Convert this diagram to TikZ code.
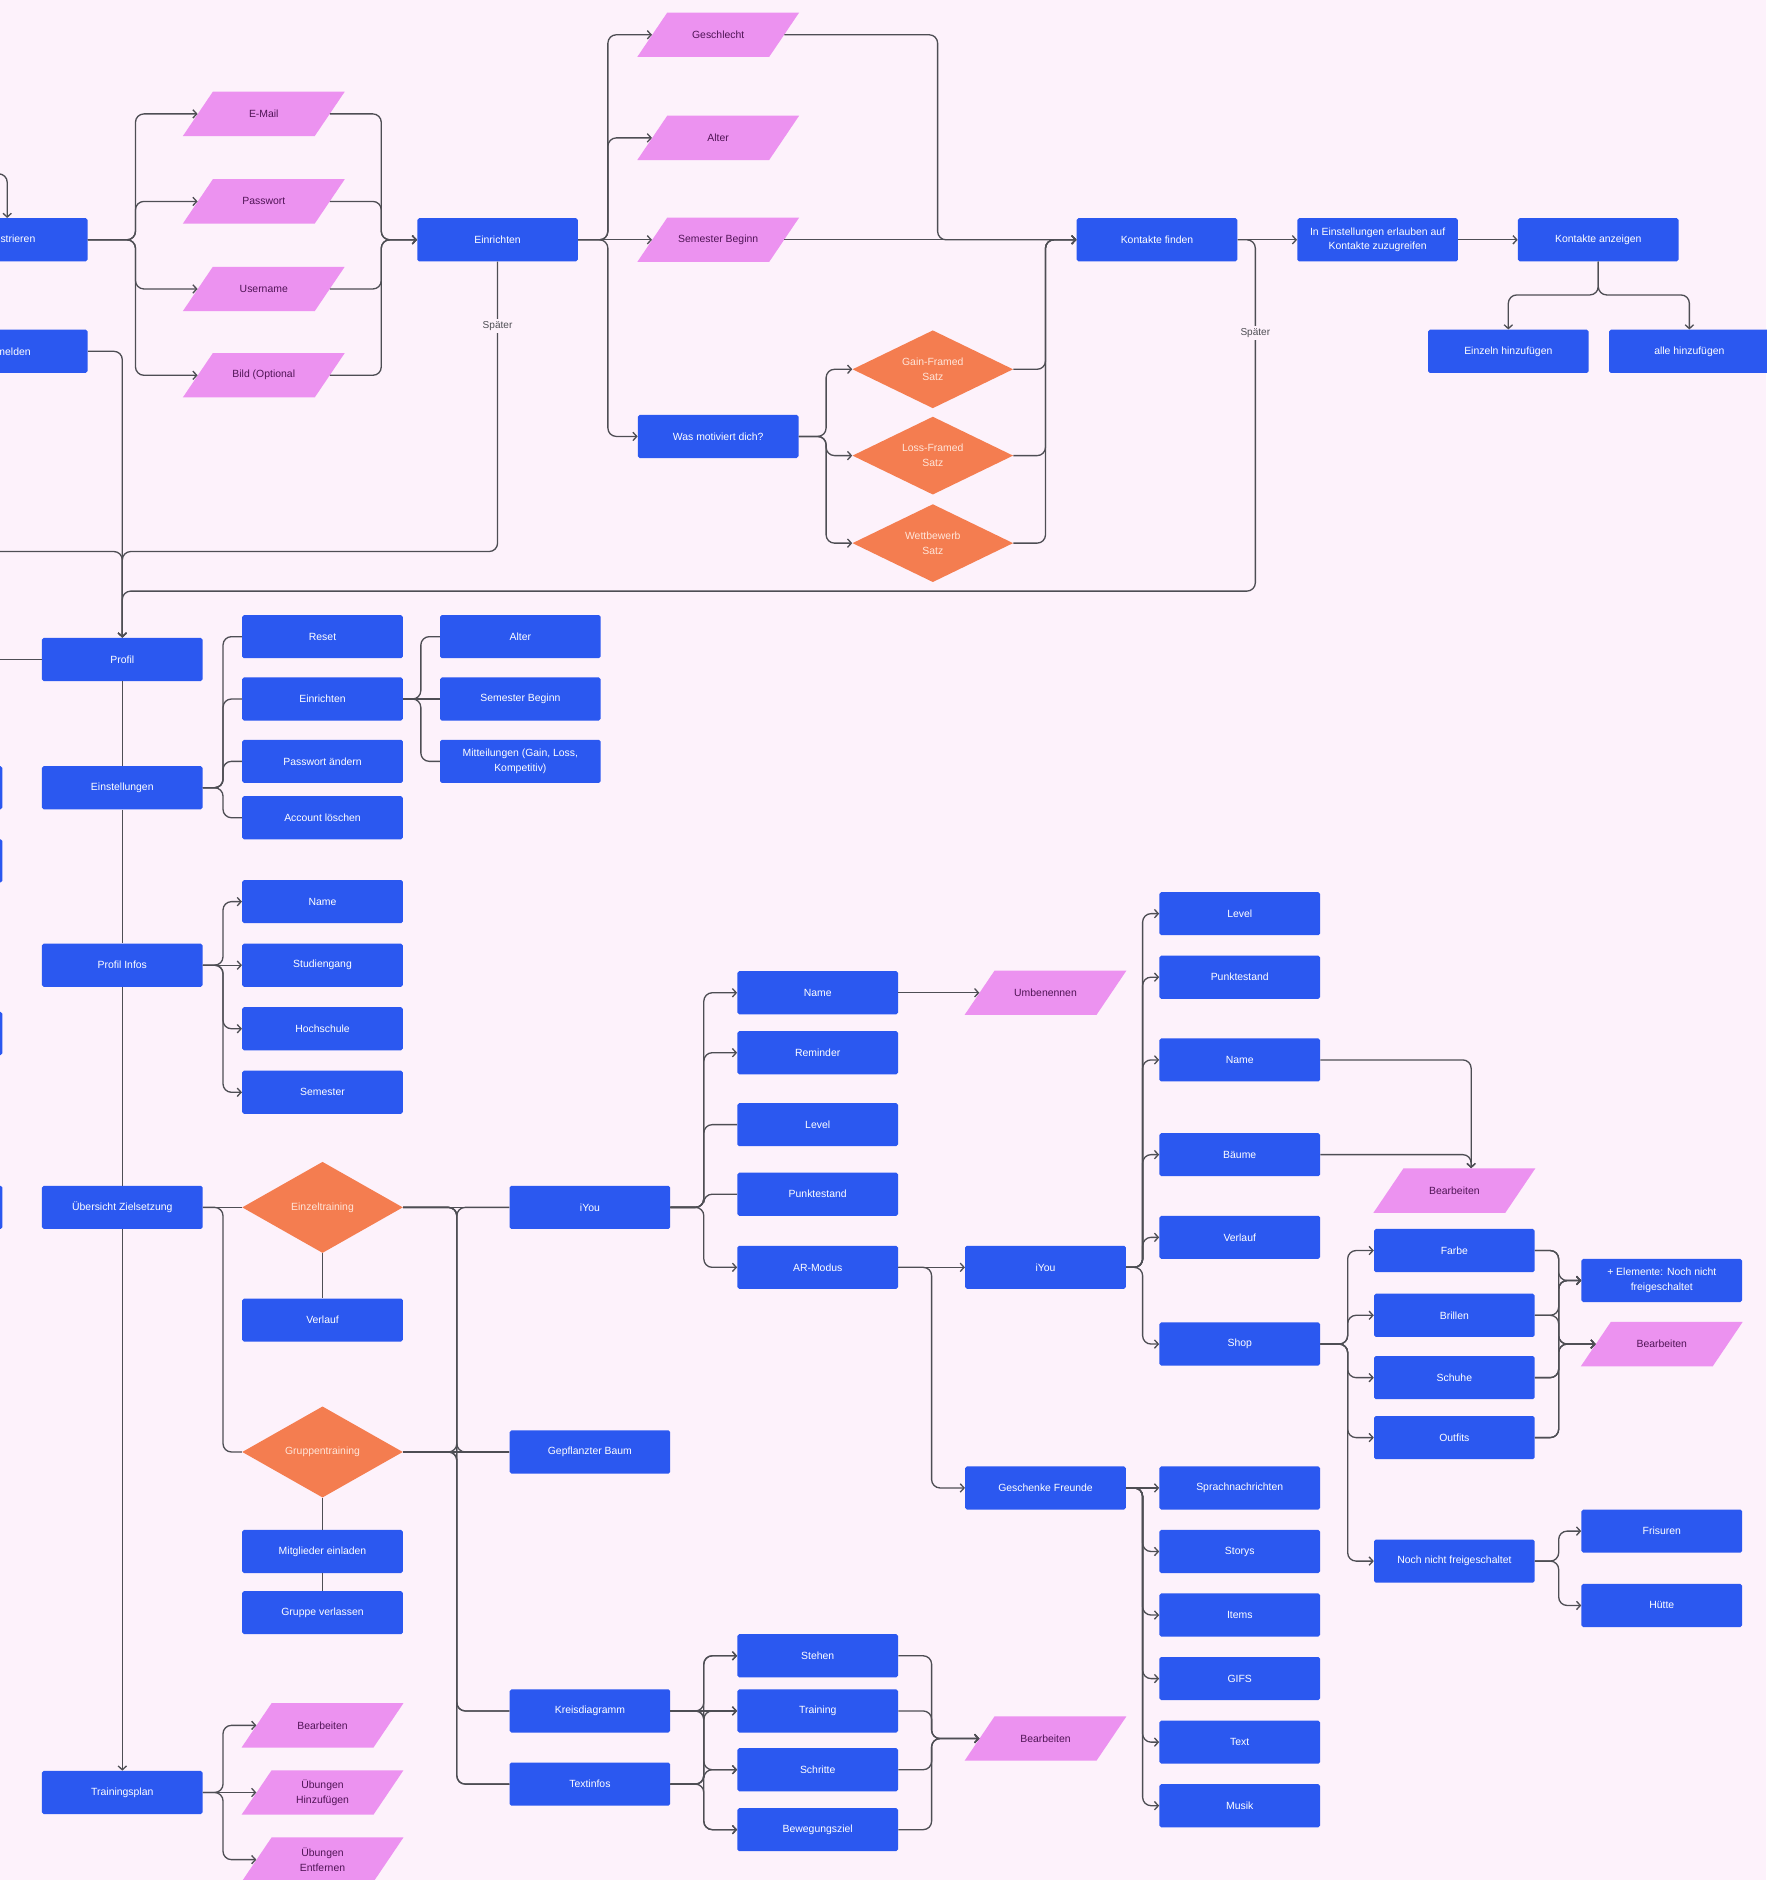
\documentclass[tikz,border=0pt]{standalone}
\usepackage{fontspec}
\setmainfont{Liberation Sans}
\usetikzlibrary{shapes.geometric,arrows.meta}

\definecolor{bg}{RGB}{253,242,251}
\definecolor{boxblue}{RGB}{43,88,240}
\definecolor{parapink}{RGB}{236,146,240}
\definecolor{paratxt}{RGB}{80,20,86}
\definecolor{dia}{RGB}{244,125,80}
\definecolor{diatxt}{RGB}{255,230,218}
\definecolor{wire}{RGB}{78,78,84}

% branch: source -> vertical bus -> target
\newcommand\wirebr[4][conn]{\draw[#1] (#2.east) -- (#2.east -| #3) |- (#4.west);}
% slanted input shape with a named text node on top
\newcommand\paranode[4]{%
  \fill[parapink, shift={(#2,#3)}] (-67.5,18.5) -- (42.5,18.5) -- (67.5,-18.5) -- (-42.5,-18.5) -- cycle;
  \node[para] (#1) at (#2,#3) {#4};}

\begin{document}
\begin{tikzpicture}[x=1pt,y=-1pt,
  every node/.style={font=\fontsize{8.7}{12.4}\selectfont},
  box/.style={rectangle, fill=boxblue, text=white, minimum width=134pt, minimum height=36pt,
    inner sep=2pt, rounded corners=1.5pt, align=center},
  para/.style={rectangle, text=paratxt, minimum width=110pt, minimum height=37pt,
    inner sep=0pt, align=center},
  dmd/.style={diamond, fill=dia, text=diatxt, minimum width=134pt, minimum height=65pt,
    inner sep=0pt, align=center, aspect=2.1},
  bigdmd/.style={dmd, minimum height=76pt, aspect=1.75},
  conn/.style={draw=wire, line width=1.1pt, rounded corners=7pt},
  arr/.style={conn, -{Straight Barb[length=3.2pt,width=7pt]}},
  lbl/.style={fill=bg, text=wire, inner sep=2pt, font=\fontsize{8.4}{10}\selectfont},
]
\fill[bg] (0,0) rectangle (1473,1568);
\useasboundingbox (0,0) rectangle (1473,1568);

% ---------------- sign-up row ----------------
\node[box] (reg) at (6,200) {Registrieren};
\node[box] (anm) at (6,293) {Anmelden};
\coordinate (entry) at (0,145);
\paranode{email}{220}{95}{E-Mail}
\paranode{pw}{220}{168}{Passwort}
\paranode{user}{220}{241}{Username}
\paranode{bild}{220}{313}{Bild (Optional}
\node[box] (einr) at (415,200) {Einrichten};
\paranode{geschl}{599}{29}{Geschlecht}
\paranode{alt1}{599}{115}{Alter}
\paranode{sem1}{599}{200}{Semester Beginn}
\node[box] (wmd) at (599,364) {Was motiviert dich?};
\node[dmd] (gain) at (778,308) {Gain-Framed\\Satz};
\node[dmd] (loss) at (778,380) {Loss-Framed\\Satz};
\node[dmd] (wett) at (778,453) {Wettbewerb\\Satz};
\node[box] (kf) at (965,200) {Kontakte finden};
\node[box] (ie) at (1149,200) {In Einstellungen erlauben auf\\Kontakte zuzugreifen};
\node[box] (ka) at (1333,200) {Kontakte anzeigen};
\node[box] (einz1) at (1258,293) {Einzeln hinzufügen};
\node[box] (alle) at (1409,293) {alle hinzufügen};

% ---------------- left spine ----------------
\node[box] (prof) at (102,550) {Profil};
\node[box] (est) at (102,657) {Einstellungen};
\node[box] (pinf) at (102,805) {Profil Infos};
\node[box] (ueb) at (102,1007) {Übersicht Zielsetzung};
\node[box] (tp) at (102,1495) {Trainingsplan};
\node[box] (lb1) at (-65,657) {};
\node[box] (lb2) at (-65,718) {};
\node[box] (lb3) at (-65,862) {};
\node[box] (lb4) at (-65,1007) {};

\node[box] (reset) at (269,531) {Reset};
\node[box] (einr2) at (269,583) {Einrichten};
\node[box] (pwa) at (269,635) {Passwort ändern};
\node[box] (acc) at (269,682) {Account löschen};
\node[box] (alt2) at (434,531) {Alter};
\node[box] (sem2) at (434,583) {Semester Beginn};
\node[box] (mitt) at (434,635) {Mitteilungen (Gain, Loss,\\Kompetitiv)};

\node[box] (name1) at (269,752) {Name};
\node[box] (stud) at (269,805) {Studiengang};
\node[box] (hoch) at (269,858) {Hochschule};
\node[box] (semst) at (269,911) {Semester};

\node[bigdmd] (einz) at (269,1007) {Einzeltraining};
\node[box] (verl) at (269,1101) {Verlauf};
\node[bigdmd] (grp) at (269,1211) {Gruppentraining};
\node[box] (mit) at (269,1294) {Mitglieder einladen};
\node[box] (gv) at (269,1345) {Gruppe verlassen};

\paranode{bear1}{269}{1439}{Bearbeiten}
\paranode{uebh}{269}{1495}{Übungen\\Hinzufügen}
\paranode{uebe}{269}{1551}{Übungen\\Entfernen}

% ---------------- goals area ----------------
\node[box] (iyou) at (492,1007) {iYou};
\node[box] (gb) at (492,1211) {Gepflanzter Baum};
\node[box] (kreis) at (492,1427) {Kreisdiagramm};
\node[box] (txt) at (492,1488) {Textinfos};

\node[box] (nm) at (682,828) {Name};
\node[box] (rem) at (682,878) {Reminder};
\node[box] (lvl) at (682,938) {Level};
\node[box] (pkt) at (682,996) {Punktestand};
\node[box] (arm) at (682,1057) {AR-Modus};
\paranode{umb}{872}{828}{Umbenennen}
\node[box] (iy2) at (872,1057) {iYou};
\node[box] (gf) at (872,1241) {Geschenke Freunde};

\node[box] (steh) at (682,1381) {Stehen};
\node[box] (trn) at (682,1427) {Training};
\node[box] (schr) at (682,1476) {Schritte};
\node[box] (bew) at (682,1526) {Bewegungsziel};
\paranode{bear4}{872}{1450}{Bearbeiten}

\node[box] (lv3) at (1034,762) {Level};
\node[box] (pk3) at (1034,815) {Punktestand};
\node[box] (nm3) at (1034,884) {Name};
\node[box] (baum) at (1034,963) {Bäume};
\node[box] (ver3) at (1034,1032) {Verlauf};
\node[box] (shop) at (1034,1121) {Shop};
\paranode{bear2}{1213}{993}{Bearbeiten}

\node[box] (sprach) at (1034,1241) {Sprachnachrichten};
\node[box] (story) at (1034,1294) {Storys};
\node[box] (items) at (1034,1347) {Items};
\node[box] (gifs) at (1034,1400) {GIFS};
\node[box] (text) at (1034,1453) {Text};
\node[box] (musik) at (1034,1506) {Musik};

\node[box] (farbe) at (1213,1043) {Farbe};
\node[box] (brill) at (1213,1097) {Brillen};
\node[box] (schuhe) at (1213,1149) {Schuhe};
\node[box] (outf) at (1213,1199) {Outfits};
\node[box] (nnf) at (1213,1302) {Noch nicht freigeschaltet};
\node[box] (elem) at (1386,1068) {+ Elemente: Noch nicht\\freigeschaltet};
\paranode{bear3}{1386}{1121}{Bearbeiten}
\node[box] (fris) at (1386,1277) {Frisuren};
\node[box] (huet) at (1386,1339) {Hütte};

% ---------------- bus positions ----------------
\coordinate (bA) at (113,0);
\coordinate (bB) at (318,0);
\coordinate (bE) at (507,0);
\coordinate (bG) at (782,0);
\coordinate (bW) at (689,0);
\coordinate (bD) at (872,0);
\coordinate (bS) at (186,0);
\coordinate (bT) at (351,0);
\coordinate (bU) at (381,0);
\coordinate (bI) at (587,0);
\coordinate (bR) at (777,0);
\coordinate (bJ) at (953,0);
\coordinate (bL) at (1124,0);
\coordinate (bM) at (1300,0);

% ---------------- connectors: sign-up ----------------
\draw[arr] (entry) -| (reg.north);
\foreach \t in {email,pw,user,bild}{\wirebr[arr]{reg}{bA}{\t}}
\foreach \s in {email,pw,user,bild}{\wirebr[arr]{\s}{bB}{einr}}
\wirebr[arr]{einr}{bE}{geschl}
\wirebr[arr]{einr}{bE}{alt1}
\draw[arr] (einr.east) -- (sem1.west);
\wirebr[arr]{einr}{bE}{wmd}
\wirebr[arr]{geschl}{bG}{kf}
\draw[arr] (sem1.east) -- (kf.west);
\foreach \t in {gain,loss,wett}{\wirebr[arr]{wmd}{bW}{\t}}
\foreach \s in {gain,loss,wett}{\wirebr[arr]{\s}{bD}{kf}}
\draw[arr] (kf.east) -- (ie.west);
\draw[arr] (ie.east) -- (ka.west);
\coordinate (kasplit) at (1333,246);
\draw[arr] (ka.south) -- (kasplit) -| (einz1.north);
\draw[arr] (ka.south) -- (kasplit) -| (alle.north);

% routes down to the profile
\coordinate (sp1) at (102,460);
\coordinate (lft1) at (0,460);
\coordinate (lft2) at (0,550);
\coordinate (sp2a) at (1047,493);
\coordinate (sp2b) at (102,493);
\draw[arr] (anm.east) -| (prof.north);
\draw[arr] (lft1) -| (prof.north);
\draw[arr] (einr.south) |- (sp1) -- (prof.north);
\draw[arr] (kf.east) -| (sp2a) -- (sp2b) -- (prof.north);
\draw[conn] (lft2) -- (prof.west);
\node[lbl] (later1) at (415,272) {Später};
\node[lbl] (later2) at (1047,278) {Später};

% ---------------- connectors: profile ----------------
\draw[conn] (prof.south) -- (est.north);
\draw[conn] (est.south) -- (pinf.north);
\draw[conn] (pinf.south) -- (ueb.north);
\draw[arr] (ueb.south) -- (tp.north);

\foreach \t in {reset,einr2,pwa,acc}{\wirebr{est}{bS}{\t}}
\wirebr{einr2}{bT}{alt2}
\draw[conn] (einr2.east) -- (sem2.west);
\wirebr{einr2}{bT}{mitt}

\wirebr[arr]{pinf}{bS}{name1}
\draw[arr] (pinf.east) -- (stud.west);
\wirebr[arr]{pinf}{bS}{hoch}
\wirebr[arr]{pinf}{bS}{semst}

\draw[conn] (ueb.east) -- (einz.west);
\wirebr{ueb}{bS}{grp}
\draw[conn] (einz.south) -- (verl.north);
\draw[conn] (grp.south) -- (mit.north);
\draw[conn] (mit.south) -- (gv.north);

\draw[conn] (einz.east) -- (iyou.west);
\draw[conn] (grp.east) -- (gb.west);
\foreach \t in {gb,kreis,txt}{\wirebr{einz}{bU}{\t}}
\foreach \t in {iyou,kreis,txt}{\wirebr{grp}{bU}{\t}}

\wirebr[arr]{tp}{bS}{bear1}
\draw[arr] (tp.east) -- (uebh.west);
\wirebr[arr]{tp}{bS}{uebe}

% ---------------- connectors: iYou ----------------
\wirebr[arr]{iyou}{bI}{nm}
\wirebr[arr]{iyou}{bI}{rem}
\wirebr{iyou}{bI}{lvl}
\wirebr{iyou}{bI}{pkt}
\wirebr[arr]{iyou}{bI}{arm}
\draw[arr] (nm.east) -- (umb.west);
\draw[arr] (arm.east) -- (iy2.west);
\wirebr[arr]{arm}{bR}{gf}

\foreach \t in {lv3,pk3,nm3,baum,ver3,shop}{\wirebr[arr]{iy2}{bJ}{\t}}
\draw[arr] (nm3.east) -| ([xshift=14pt]bear2.north);
\draw[arr] (baum.east) -| ([xshift=14pt]bear2.north);

\foreach \t in {farbe,brill,schuhe,outf,nnf}{\wirebr[arr]{shop}{bL}{\t}}
\foreach \s in {farbe,brill,schuhe,outf}{
  \wirebr[arr]{\s}{bM}{elem}
  \wirebr[arr]{\s}{bM}{bear3}
}
\wirebr[arr]{nnf}{bM}{fris}
\wirebr[arr]{nnf}{bM}{huet}

\draw[arr] (gf.east) -- (sprach.west);
\foreach \t in {story,items,gifs,text,musik}{\wirebr[arr]{gf}{bJ}{\t}}

\foreach \t in {steh,schr,bew}{\wirebr[arr]{kreis}{bI}{\t}}
\draw[arr] (kreis.east) -- (trn.west);
\foreach \t in {steh,trn,schr,bew}{\wirebr[arr]{txt}{bI}{\t}}
\foreach \s in {steh,trn,schr,bew}{\wirebr[arr]{\s}{bR}{bear4}}
\end{tikzpicture}
\end{document}
